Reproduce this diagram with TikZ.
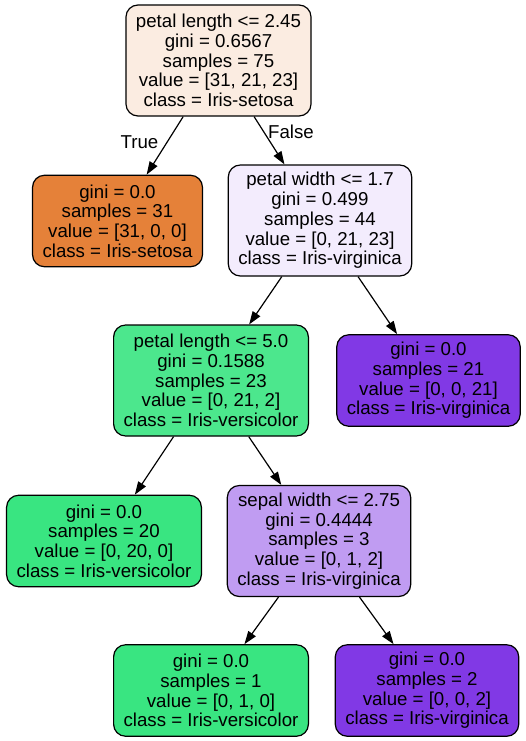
\documentclass[tikz,border=0pt]{standalone}
\usepackage{fontspec}
\setmainfont{Liberation Sans}
\usetikzlibrary{arrows.meta}
\definecolor{cRoot}{RGB}{251,236,225}
\definecolor{cSetosa}{RGB}{229,129,57}
\definecolor{cPW}{RGB}{243,236,253}
\definecolor{cPL}{RGB}{76,231,141}
\definecolor{cVers}{RGB}{57,229,129}
\definecolor{cVirg}{RGB}{129,57,229}
\definecolor{cSepal}{RGB}{192,156,242}
\tikzset{
  treenode/.style={draw=black, line width=1.2pt, rounded corners=12pt, align=center,
    inner xsep=10pt, inner ysep=2pt,
    font=\fontsize{18.67}{19.75}\selectfont},
  split/.style={treenode, minimum height=111pt},
  leaf/.style={treenode, minimum height=91.5pt},
  edge/.style={line width=1.2pt, -{Triangle[length=13pt,width=9pt]}},
  elabel/.style={font=\fontsize{18.67}{19.75}\selectfont, inner sep=0pt}
}
\begin{document}
\begin{tikzpicture}[x=1pt,y=-1pt]
\useasboundingbox (0,0) rectangle (525,741);
\node[split, fill=cRoot] (root) at (218.5,60.5) {petal length <= 2.45\\gini = 0.6567\\samples = 75\\value = [31, 21, 23]\\class = Iris-setosa};
\node[leaf, fill=cSetosa] (setosa) at (117.5,221) {gini = 0.0\\samples = 31\\value = [31, 0, 0]\\class = Iris-setosa};
\node[split, fill=cPW] (pw) at (320,220.5) {petal width <= 1.7\\gini = 0.499\\samples = 44\\value = [0, 21, 23]\\class = Iris-virginica};
\node[split, fill=cPL] (pl) at (211,380.5) {petal length <= 5.0\\gini = 0.1588\\samples = 23\\value = [0, 21, 2]\\class = Iris-versicolor};
\node[leaf, fill=cVirg] (v21) at (428.5,380.5) {gini = 0.0\\samples = 21\\value = [0, 0, 21]\\class = Iris-virginica};
\node[leaf, fill=cVers] (v20) at (104,541) {gini = 0.0\\samples = 20\\value = [0, 20, 0]\\class = Iris-versicolor};
\node[split, fill=cSepal] (sw) at (319,541) {sepal width <= 2.75\\gini = 0.4444\\samples = 3\\value = [0, 1, 2]\\class = Iris-virginica};
\node[leaf, fill=cVers] (v1) at (211,690.5) {gini = 0.0\\samples = 1\\value = [0, 1, 0]\\class = Iris-versicolor};
\node[leaf, fill=cVirg] (v2) at (427,690.5) {gini = 0.0\\samples = 2\\value = [0, 0, 2]\\class = Iris-virginica};
\draw[edge] (root) -- (setosa);
\draw[edge] (root) -- (pw);
\draw[edge] (pw) -- (pl);
\draw[edge] (pw) -- (v21);
\draw[edge] (pl) -- (v20);
\draw[edge] (pl) -- (sw);
\draw[edge] (sw) -- (v1);
\draw[edge] (sw) -- (v2);
\node[elabel] (tl) at (139.5,142) {True};
\node[elabel] (fl) at (291,132) {False};
\end{tikzpicture}
\end{document}
